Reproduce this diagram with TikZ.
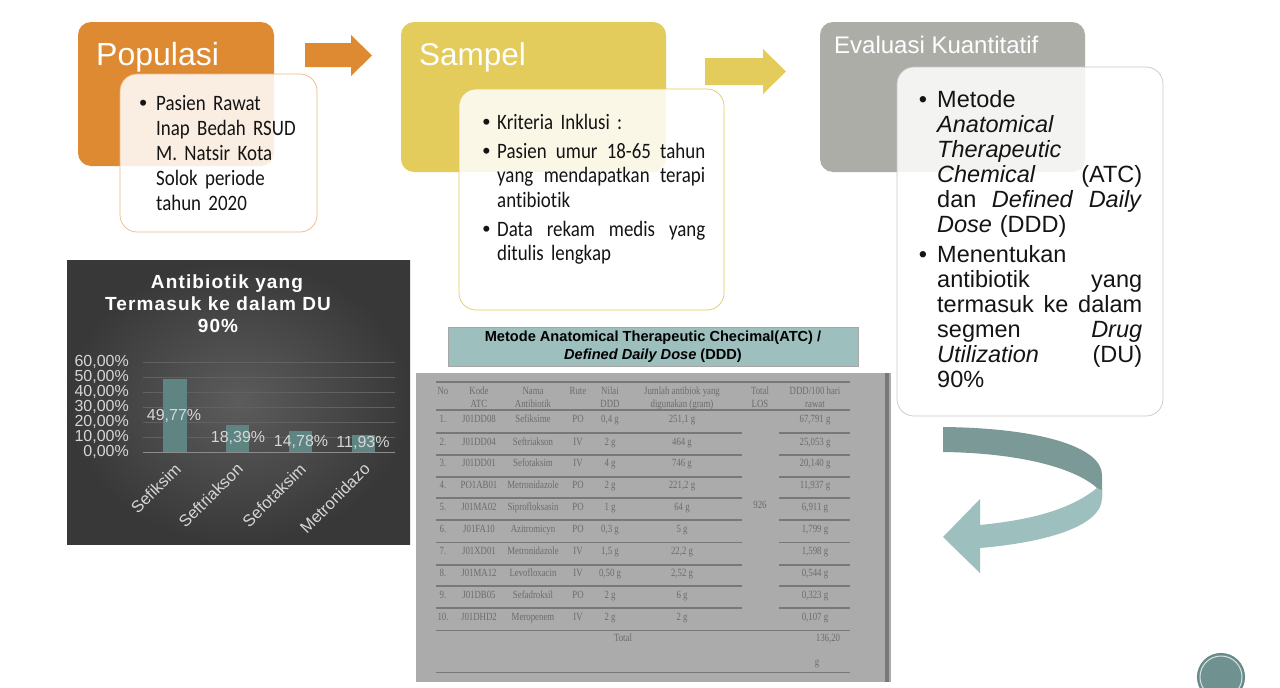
\documentclass[tikz,border=0pt]{standalone}
\usepackage{fontspec}
\setmainfont{Liberation Sans}
\newfontfamily\narrowfont[FakeStretch=.86,WordSpace=.5,Ligatures=NoCommon]{Carlito}
\newfontfamily\tablefont[FakeStretch=.8]{Liberation Serif}
\newfontfamily\spacedfont[LetterSpace=6]{Liberation Sans}
\usetikzlibrary{positioning}
\definecolor{oranye}{HTML}{DE8A33}
\definecolor{kuning}{HTML}{E3CB5C}
\definecolor{abu}{HTML}{ADADA8}
\definecolor{tosca}{HTML}{9DBFBD}
\definecolor{toscagelap}{HTML}{7B9997}
\definecolor{batang}{HTML}{5F8583}
\definecolor{tabel}{HTML}{ABABAB}
\definecolor{garis}{HTML}{787878}
\definecolor{isitabel}{HTML}{6C6C6C}
\definecolor{labelgrafik}{HTML}{D6D6D6}
\newcommand{\butir}[1]{\leavevmode\llap{{\rmfamily •}\hspace{#1}}}
\tikzset{%
    kotak/.style={rectangle,rounded corners=13pt,inner sep=0pt,fill=#1},
    kartu/.style={rectangle,rounded corners=17pt,inner sep=0pt,draw=#1,line width=.7pt,fill=white,fill opacity=.86},
    judul/.style={anchor=base west,inner sep=0pt,text=white},
    isi/.style={anchor=base west,inner sep=0pt,align=left,text=black!92},
    sumbu/.style={anchor=east,inner sep=0pt,text=labelgrafik,font=\fontsize{16}{16}\selectfont},
    nilai/.style={inner sep=0pt,text=labelgrafik,font=\fontsize{16}{16}\selectfont},
    kategori/.style={anchor=east,rotate=45,inner sep=0pt,text=labelgrafik,font=\fontsize{16.5}{16.5}\selectfont},
    sel/.style={inner sep=0pt,align=center,text=isitabel,font=\tablefont\fontsize{11}{13}\selectfont},
    baris/.style={sel,text height=7.5pt,text depth=0pt}
}

\begin{document}
\begin{tikzpicture}[x=1pt,y=-1pt]
            \useasboundingbox (0,0) rectangle (1280,688);
            \fill[white] (0,0) rectangle (1280,688);
            %%%%% populasi
            \node [kotak=oranye,minimum width=196pt,minimum height=144pt] (populasi) at (176,94) {};
            \node [judul,font=\fontsize{32}{32}\selectfont] (populasi-judul) at (96,65) {Populasi};
            \node [kartu=oranye!60,minimum width=197pt,minimum height=158pt] (populasi-isi) at (218.5,153) {};
            \node [isi,text width=150pt,font=\narrowfont\fontsize{22}{25}\selectfont] (populasi-teks) at (156,110)
            {\butir{9pt}Pasien Rawat\\Inap Bedah RSUD\\M. Natsir Kota\\Solok periode\\tahun 2020};
            \fill [oranye] (305,43) -- (351,43) -- (351,35) -- (372,55.5) -- (351,76) -- (351,67) -- (305,67) -- cycle;
            %%%%% sampel
            \node [kotak=kuning,minimum width=265pt,minimum height=150pt] (sampel) at (533.5,97) {};
            \node [judul,font=\fontsize{31.5}{31.5}\selectfont] (sampel-judul) at (419,65) {Sampel};
            \node [kartu=kuning,minimum width=265pt,minimum height=221pt] (sampel-isi) at (591.5,199.5) {};
            \node [isi,text width=208pt,font=\narrowfont\fontsize{22}{24.5}\selectfont] (sampel-teks) at (497,129)
            {\butir{7pt}Kriteria Inklusi :\\[4.5pt]
            \butir{7pt}Pasien\hfill umur\hfill 18-65\hfill tahun\\
            yang\hfill mendapatkan\hfill terapi\\antibiotik\\[4.5pt]
            \butir{7pt}Data\hfill rekam\hfill medis\hfill yang\\ditulis lengkap};
            \fill [kuning] (705,58) -- (763,58) -- (763,49) -- (786,71.5) -- (763,94) -- (763,85) -- (705,85) -- cycle;
            %%%%% evaluasi
            \node [kotak=abu,minimum width=265pt,minimum height=150pt] (evaluasi) at (952.5,97) {};
            \node [judul,font=\fontsize{24}{24}\selectfont] (evaluasi-judul) at (834,53) {Evaluasi Kuantitatif};
            \node [kartu=black!22,minimum width=266pt,minimum height=349pt] (evaluasi-isi) at (1030,241.5) {};
            \node [isi,text width=205pt,font=\fontsize{23.5}{25}\selectfont] (evaluasi-teks) at (937,107)
            {\butir{10pt}Metode\\\textit{Anatomical}\\\textit{Therapeutic}\\\textit{Chemical}\hfill(ATC)\\
            dan\hfill\textit{Defined}\hfill\textit{Daily}\\\textit{Dose} (DDD)\\[5pt]
            \butir{10pt}Menentukan\\antibiotik\hfill yang\\termasuk\hfill ke\hfill dalam\\
            segmen\hfill\textit{Drug}\\\textit{Utilization}\hfill(DU)\\90\%};
            %%%%% grafik
            \node [rectangle,inner sep=0pt,minimum width=343pt,minimum height=284pt,
            inner color=black!64,outer color=black!78] (grafik) at (238.5,402) {};
            \node [inner sep=0pt,align=center,text=white,font=\spacedfont\bfseries\fontsize{19}{22}\selectfont] (grafik-judul) at (218,304)
            {\hspace*{18pt}Antibiotik yang\\Termasuk ke dalam DU\\90\%};
            \foreach \y/\v in {362/60,377/50,392/40,407/30,422/20,437/10,452/0}{
                \node [sumbu] (sumbu-\v) at (129,\y) {\v,00\%};
                \draw [black!62,line width=.5pt] (143,\y) -- (395,\y);
            }
            \draw [black!45,line width=1pt] (143,452) -- (395,452);
            \foreach \a/\b/\t in {163/187/379,226/249/425,289/312/431,352/375/435}
                \fill [batang] (\a,\t) rectangle (\b,452);
            \foreach \x/\y/\v [count=\r] in {174/416/{49,77\%},238/438/{18,39\%},301/442/{14,78\%},363/443/{11,93\%}}
                \node [nilai] (persen-\r) at (\x,\y) {\v};
            \foreach \x/\k in {178/Sefiksim,240/Seftriakson,303/Sefotaksim,367/Metronidazo}
                \node [kategori] (kat-\k) at (\x,466) {\k};
            %%%%% tabel
            \node [rectangle,inner sep=0pt,minimum width=410pt,minimum height=39pt,fill=tosca,draw=black!35,line width=.4pt,
            align=center,font=\bfseries\fontsize{14.6}{18}\selectfont] (metode) at (653,346.5)
            {Metode Anatomical Therapeutic Checimal(ATC) /\\\textit{Defined Daily Dose} (DDD)};
            \node [rectangle,inner sep=0pt,minimum width=475pt,minimum height=309pt,fill=tabel] (tabel) at (653.5,527.5) {};
            \fill [garis] (885,373) rectangle (888.5,682);
            \foreach \y in {382,410,630.5,672.5}
                \draw [garis,line width=1.2pt] (436,\y) -- (850,\y);
            \foreach \y in {433,455,477,498,520,542.5,565,586,608}{
                \draw [garis,line width=1.2pt] (436,\y) -- (742,\y);
                \draw [garis,line width=1.2pt] (779,\y) -- (850,\y);
            }
            \foreach \x/\h [count=\k] in {443/No,479/Kode\\ATC,533/Nama\\Antibiotik,578/Rute,610/Nilai\\DDD,
            682/Jumlah antibiok yang\\digunakan (gram),760/Total\\LOS,815/{DDD/100 hari\\rawat}}
                \node [sel,anchor=north] (kepala-\k) at (\x,387) {\h};
            \foreach \y/\no/\kode/\nama/\rute/\nilai/\jumlah/\ddd [count=\r] in {
                419/1./J01DD08/Sefiksime/PO/{0,4 g}/{251,1 g}/{67,791 g},
                442/2./J01DD04/Seftriakson/IV/2 g/464 g/{25,053 g},
                463/3./J01DD01/Sefotaksim/IV/4 g/746 g/{20,140 g},
                485/4./PO1AB01/Metronidazole/PO/2 g/{221,2 g}/{11,937 g},
                507/5./J01MA02/Siprofloksasin/PO/1 g/64 g/{6,911 g},
                529/6./J01FA10/Azitromicyn/PO/{0,3 g}/5 g/{1,799 g},
                551/7./J01XD01/Metronidazole/IV/{1,5 g}/{22,2 g}/{1,598 g},
                573/8./J01MA12/Levofloxacin/IV/{0,50 g}/{2,52 g}/{0,544 g},
                595/9./J01DB05/Sefadroksil/PO/2 g/6 g/{0,323 g},
                617/10./J01DHD2/Meropenem/IV/2 g/2 g/{0,107 g}}{
                \node [baris] (no-\r) at (443,\y) {\no};
                \node [baris] (kode-\r) at (479,\y) {\kode};
                \node [baris] (nama-\r) at (533,\y) {\nama};
                \node [baris] (rute-\r) at (578,\y) {\rute};
                \node [baris] (nilai-\r) at (610,\y) {\nilai};
                \node [baris] (jumlah-\r) at (682,\y) {\jumlah};
                \node [baris] (ddd-\r) at (815,\y) {\ddd};
            }
            \node [baris] (los) at (760,505) {926};
            \node [baris] (total) at (623,638) {Total};
            \node [baris] (total-a) at (828,638) {136,20};
            \node [baris] (total-b) at (817,662) {g};
            %%%%% panah lengkung
            \fill [toscagelap] (943,427) .. controls (1040,428) and (1102,447) .. (1102,475) -- (1102,498)
            -- (1097,488) .. controls (1075,468) and (1020,453) .. (943,452) -- cycle;
            \fill [tosca] (1097,488) .. controls (1070,510) and (1030,520) .. (980,525) -- (980,499) -- (943,537)
            -- (980,573) -- (980,548) .. controls (1050,542) and (1102,525) .. (1102,498) -- (1102,490) -- cycle;
            %%%%% hiasan
            \node [circle,inner sep=0pt,minimum size=47pt,fill=batang!90!white,draw=batang,line width=1pt] (hiasan) at (1221,677) {};
            \node [circle,inner sep=0pt,minimum size=42pt,draw=white!75!batang,line width=1pt] (hiasan-dalam) at (1221,677) {};
\end{tikzpicture}
\end{document}
